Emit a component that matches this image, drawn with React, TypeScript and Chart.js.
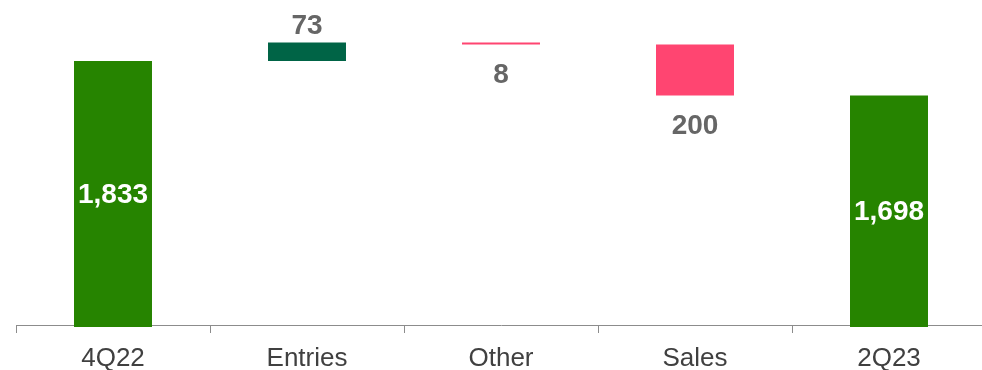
import React, { useEffect, useRef } from "react";
import { Chart, registerables } from "chart.js";

Chart.register(...registerables);

// Bridge from 4Q22 to 2Q23
const categories = ["4Q22", "Entries", "Other", "Sales", "2Q23"];
const amounts = [1833, 73, -8, -200, 1698];
const isTotal = [true, false, false, false, true];
const valueLabels = ["1,833", "73", "8", "200", "1,698"];

const TOTAL_COLOR = "#268400";
const UP_COLOR = "#006446";
const DOWN_COLOR = "#ff4571";

// Floating [start, end] ranges for every bar of the waterfall
function buildRanges(): [number, number][] {
  const out: [number, number][] = [];
  let running = 0;
  amounts.forEach((v, i) => {
    if (isTotal[i]) {
      out.push([0, v]);
      running = v;
    } else {
      out.push([running, running + v]);
      running += v;
    }
  });
  return out;
}

const valueLabelPlugin = {
  id: "waterfallValueLabels",
  afterDatasetsDraw(chart: any) {
    const { ctx, chartArea } = chart;
    const meta = chart.getDatasetMeta(0);
    ctx.save();
    ctx.font = "bold 28px 'Liberation Sans', Arial, sans-serif";
    ctx.textAlign = "center";
    ctx.textBaseline = "middle";
    meta.data.forEach((bar: any, i: number) => {
      const props = bar.getProps(["x", "y", "base"], true);
      const top = Math.min(props.y, props.base);
      const bottom = Math.min(Math.max(props.y, props.base), chartArea.bottom);
      let y: number;
      if (isTotal[i]) {
        ctx.fillStyle = "#ffffff";
        y = (top + bottom) / 2 + 2;
      } else if (amounts[i] >= 0) {
        ctx.fillStyle = "#666666";
        y = top - 16;
      } else {
        ctx.fillStyle = "#666666";
        y = bottom + 31;
      }
      ctx.fillText(valueLabels[i], props.x, y);
    });
    ctx.restore();
  },
};

export default function App() {
  const canvasRef = useRef<HTMLCanvasElement | null>(null);

  useEffect(() => {
    document.body.style.margin = "0";
    const canvas = canvasRef.current;
    if (!canvas) return;
    const ranges = buildRanges();
    const colors = amounts.map((v, i) =>
      isTotal[i] ? TOTAL_COLOR : v >= 0 ? UP_COLOR : DOWN_COLOR
    );
    const chart = new Chart(canvas, {
      type: "bar",
      data: {
        labels: categories,
        datasets: [
          {
            data: ranges as any,
            backgroundColor: colors,
            borderWidth: 0,
            categoryPercentage: 1,
            barPercentage: 0.402,
            clip: { left: 0, top: 0, right: 0, bottom: 2 } as any,
          },
        ],
      },
      options: {
        responsive: false,
        animation: false,
        layout: { padding: { left: 16, right: 4, top: 0, bottom: 0 } },
        plugins: {
          legend: { display: false },
          tooltip: { enabled: false },
        },
        scales: {
          y: {
            display: false,
            min: 800,
            max: 2072,
          },
          x: {
            offset: true,
            afterFit: (scale: any) => {
              scale.height = 45;
            },
            border: { display: true, color: "#8c8c8c", width: 1 },
            grid: {
              display: true,
              offset: true,
              drawOnChartArea: false,
              drawTicks: true,
              tickLength: 8,
              color: "#8c8c8c",
            },
            ticks: {
              color: "#404040",
              padding: 10,
              font: { family: "'Liberation Sans', Arial, sans-serif", size: 26 },
            },
          },
        },
      },
      plugins: [valueLabelPlugin],
    });
    return () => chart.destroy();
  }, []);

  return (
    <div style={{ width: 982, height: 370, overflow: "hidden", position: "relative" }}>
      <canvas ref={canvasRef} width={990} height={370} style={{ display: "block" }} />
    </div>
  );
}
